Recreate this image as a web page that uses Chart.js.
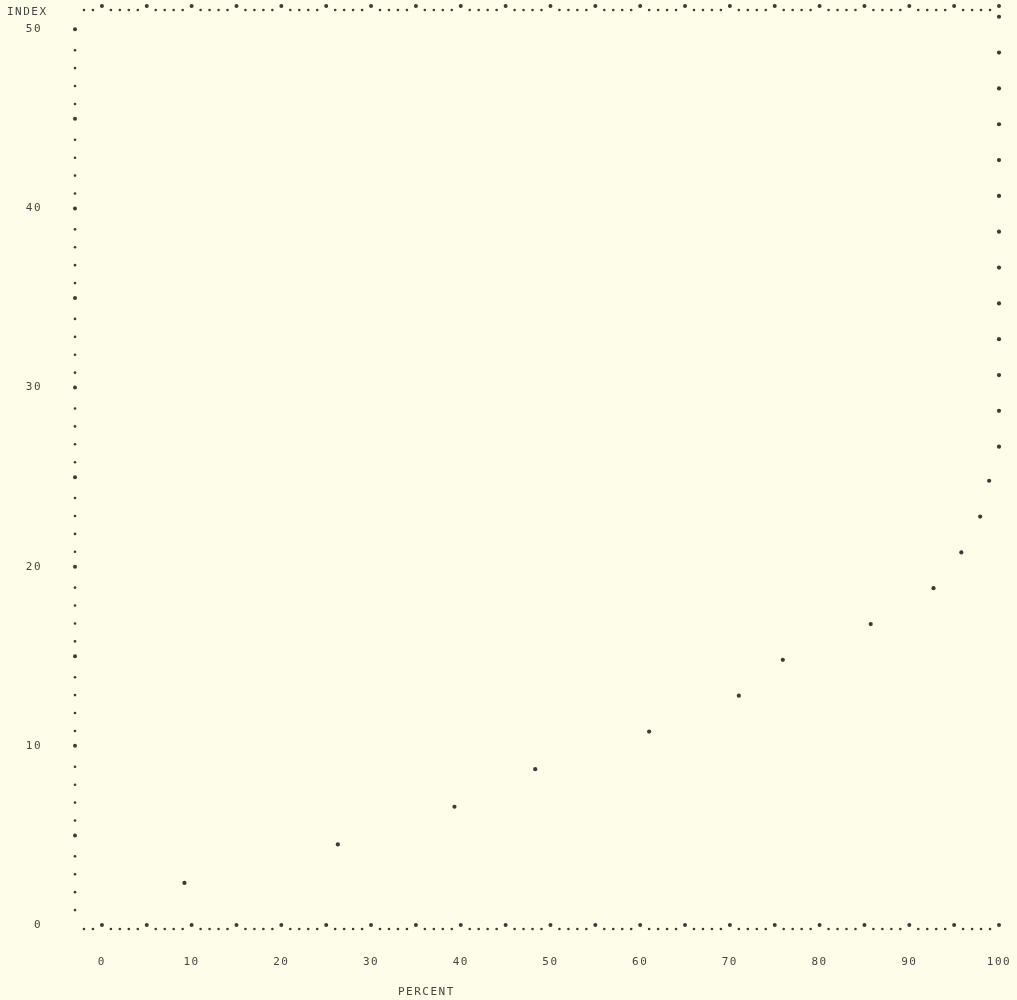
<!DOCTYPE html>
<html>
<head>
<meta charset="utf-8">
<script src="https://cdn.jsdelivr.net/npm/chart.js@4.4.1/dist/chart.umd.min.js"></script>
<style>
	html, body { margin: 0; padding: 0; background: #fdfde9; }
	#wrap { width: 1017px; height: 1000px; position: relative; }
</style>
</head>
<body>
<div id="wrap"><canvas id="plot"></canvas></div>
<script>
// values
const percentValues = [9.2, 26.3, 39.3, 48.3, 61.0, 71.0, 75.9, 85.7, 92.7, 95.8, 97.9, 98.9,
	100, 100, 100, 100, 100, 100, 100, 100, 100, 100, 100, 100, 100];
const indexValues = [2.35, 4.5, 6.6, 8.7, 10.8, 12.8, 14.8, 16.8, 18.8, 20.8, 22.8, 24.8,
	26.7, 28.7, 30.7, 32.7, 34.7, 36.7, 38.7, 40.7, 42.7, 44.7, 46.7, 48.7, 50.7];
const xTickLabels = [0, 10, 20, 30, 40, 50, 60, 70, 80, 90, 100];
const yTickLabels = [0, 10, 20, 30, 40, 50];

const ink = '#3b3b3b';
const textInk = '#454545';
const printFont = { family: '"DejaVu Sans Mono", monospace', size: 11 };

// line-printer frame: '.' every unit, '+' every 5 units
const printerFrame = {
	id: 'printerFrame',
	beforeDraw(chart) {
		chart.ctx.letterSpacing = '1.5px';
	},
	afterDatasetsDraw(chart) {
		const { ctx, scales: { x, y } } = chart;
		const dot = (px, py, r) => {
			ctx.beginPath();
			ctx.arc(px, py, r, 0, Math.PI * 2);
			ctx.fill();
		};
		ctx.save();
		ctx.fillStyle = ink;
		const leftX = x.getPixelForValue(x.min);
		for (let v = 1; v <= 50; v++) {
			const py = y.getPixelForValue(v);
			if (v % 5 === 0) dot(leftX, py, 2);
			else dot(leftX, py + 3, 1.3);
		}
		const rows = [y.getPixelForValue(0), y.getPixelForValue(y.max)];
		for (let c = x.min + 1; c <= 100; c++) {
			const px = x.getPixelForValue(c);
			rows.forEach(py => {
				if (c % 5 === 0) dot(px, py, 2);
				else dot(px, py + 4, 1.3);
			});
		}
		ctx.fillStyle = textInk;
		ctx.font = `${printFont.size}px ${printFont.family}`;
		ctx.textBaseline = 'middle';
		ctx.textAlign = 'left';
		ctx.fillText('INDEX', 7, y.getPixelForValue(y.max) + 6);
		ctx.fillText('PERCENT', x.getPixelForValue(33), 992);
		ctx.restore();
	}
};

function drawPlot() {
	const ctx = document.getElementById('plot').getContext('2d');
	new Chart(ctx, {
		type: 'scatter',
		data: {
			datasets: [{
				data: percentValues.map((p, i) => ({ x: p, y: indexValues[i] })),
				backgroundColor: ink,
				borderWidth: 0,
				pointRadius: 2.1,
				clip: false
			}]
		},
		options: {
			responsive: true,
			maintainAspectRatio: false,
			animation: false,
			layout: { padding: { top: 6, right: 18, left: 0, bottom: 0 } },
			plugins: {
				legend: { display: false },
				tooltip: { enabled: false }
			},
			scales: {
				x: {
					type: 'linear',
					min: -3,
					max: 100,
					afterBuildTicks: s => { s.ticks = xTickLabels.map(v => ({ value: v })); },
					afterFit: s => {
						s.height = 75;
						s.paddingLeft = 0;
						s.paddingRight = 0;
					},
					grid: { display: false, drawTicks: false },
					border: { display: false },
					ticks: { color: textInk, font: printFont, padding: 31, maxRotation: 0, autoSkip: false }
				},
				y: {
					type: 'linear',
					min: 0,
					max: 51.3,
					afterBuildTicks: s => { s.ticks = yTickLabels.map(v => ({ value: v })); },
					afterFit: s => {
						s.width = 75;
						s.paddingTop = 0;
						s.paddingBottom = 0;
					},
					grid: { display: false, drawTicks: false },
					border: { display: false },
					ticks: { color: textInk, font: printFont, padding: 33 }
				}
			}
		},
		plugins: [printerFrame]
	});
}

window.onload = () => {
	drawPlot();
};
</script>
</body>
</html>
